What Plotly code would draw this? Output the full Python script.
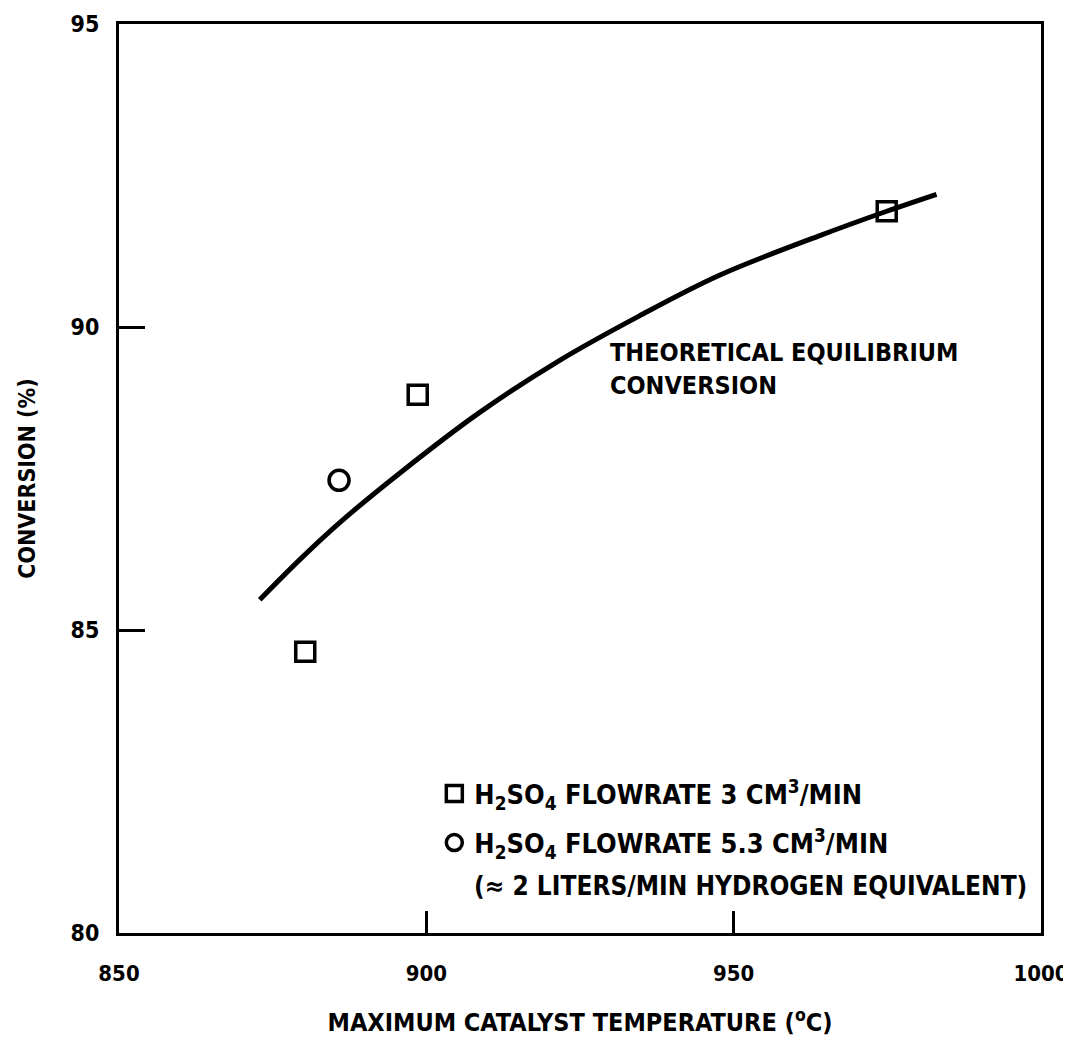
import plotly.graph_objects as go

# Data
curve_temp = [872.9, 879.5, 886.0, 895.2, 908.4, 921.7, 934.6, 947.6, 963.8, 974.9, 983.0]
curve_conv = [85.50, 86.17, 86.78, 87.55, 88.57, 89.45, 90.18, 90.85, 91.50, 91.91, 92.19]

sq_temp = [880.3, 898.6, 974.9]
sq_conv = [84.64, 88.88, 91.91]

ci_temp = [885.8]
ci_conv = [87.47]

x_ticks = [850, 900, 950, 1000]
y_ticks = [80, 85, 90, 95]

FONT = "DejaVu Sans Condensed, Liberation Sans Narrow, Arial Narrow, sans-serif"

fig = go.Figure()
fig.add_trace(go.Scatter(
    x=curve_temp, y=curve_conv, mode="lines",
    line=dict(color="black", width=5, shape="spline", smoothing=1.0),
    showlegend=False, hoverinfo="skip"))
fig.add_trace(go.Scatter(
    x=sq_temp, y=sq_conv, mode="markers", legendgroup="a",
    marker=dict(symbol="square-open", size=19, color="black", line=dict(width=3.5, color="black")),
    name="<b>H<sub>2</sub>SO<sub>4</sub> FLOWRATE 3 CM<sup>3</sup>/MIN</b>"))
fig.add_trace(go.Scatter(
    x=ci_temp, y=ci_conv, mode="markers", legendgroup="b",
    marker=dict(symbol="circle-open", size=20, color="black", line=dict(width=3.5, color="black")),
    name="<b>H<sub>2</sub>SO<sub>4</sub> FLOWRATE 5.3 CM<sup>3</sup>/MIN</b>"))

fig.add_annotation(
    x=0.383, y=0.052, xref="paper", yref="paper", xanchor="left", yanchor="middle", align="left",
    text="<b>(≈ 2 LITERS/MIN HYDROGEN EQUIVALENT)</b>", showarrow=False,
    font=dict(family=FONT, size=26, color="black"))

fig.add_annotation(
    x=929.6, y=89.30, xref="x", yref="y", xanchor="left", yanchor="middle", align="left",
    text="<b>THEORETICAL EQUILIBRIUM<br>CONVERSION</b>", showarrow=False,
    font=dict(family=FONT, size=25, color="black"))

fig.update_layout(
    width=1063, height=1034,
    margin=dict(l=111, r=30, t=16, b=109, autoexpand=False),
    paper_bgcolor="white", plot_bgcolor="white",
    font=dict(family=FONT, size=22, color="black"),
    legend=dict(x=0.342, y=0.18, xanchor="left", yanchor="top", bgcolor="rgba(0,0,0,0)",
                font=dict(family=FONT, size=27, color="black"), valign="middle",
                itemsizing="trace", tracegroupgap=11),
    xaxis=dict(
        range=[850, 1000], tickvals=x_ticks, ticktext=[f"<b>{v}</b>" for v in x_ticks],
        ticks="inside", ticklen=22, tickwidth=3, tickcolor="black",
        showline=True, linewidth=3, linecolor="black", mirror=True,
        showgrid=False, zeroline=False, ticklabelstandoff=19, automargin=False,
        ticklabeloverflow="allow",
        tickfont=dict(family=FONT, size=22),
        title=dict(text="<b>MAXIMUM CATALYST TEMPERATURE (<sup>o</sup>C)</b>", standoff=29,
                   font=dict(family=FONT, size=25))),
    yaxis=dict(
        range=[80, 95], tickvals=y_ticks, ticktext=[f"<b>{v}</b>" for v in y_ticks],
        ticks="inside", ticklen=26, tickwidth=3, tickcolor="black",
        showline=True, linewidth=3, linecolor="black", mirror=True,
        showgrid=False, zeroline=False, ticklabelstandoff=12, automargin=False,
        ticklabeloverflow="allow",
        tickfont=dict(family=FONT, size=23),
        title=dict(text="<b>CONVERSION (%)</b>", standoff=29,
                   font=dict(family=FONT, size=23))),
)

fig.write_html("out.html")
